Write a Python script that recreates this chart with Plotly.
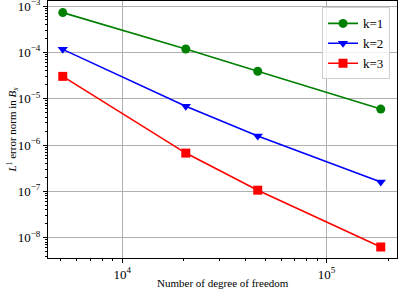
import plotly.graph_objects as go

dof = [5120, 20480, 46080, 184320]
err_k1 = [7.2e-4, 1.18e-4, 3.9e-5, 5.96e-6]
err_k2 = [1.16e-4, 6.9e-6, 1.56e-6, 1.6e-7]
err_k3 = [3.03e-5, 6.7e-7, 1.06e-7, 6.3e-9]

series = [
    ("k=1", err_k1, "#008000", "circle"),
    ("k=2", err_k2, "#0000ff", "triangle-down"),
    ("k=3", err_k3, "#ff0000", "square"),
]

yticks = [1e-8, 1e-7, 1e-6, 1e-5, 1e-4, 1e-3]
yticktext = ["10<sup>\u22128</sup>", "10<sup>\u22127</sup>", "10<sup>\u22126</sup>",
             "10<sup>\u22125</sup>", "10<sup>\u22124</sup>", "10<sup>\u22123</sup>"]
xticks = [1e4, 1e5]
xticktext = ["10<sup>4</sup>", "10<sup>5</sup>"]

font = "Liberation Serif"

fig = go.Figure()
for name, ys, col, sym in series:
    fig.add_trace(go.Scatter(
        x=dof, y=ys, name=name, mode="lines+markers",
        line=dict(color=col, width=1.6),
        marker=dict(symbol=sym, size=9, color=col),
    ))

xminor = [v * m for v in [1e3, 1e4, 1e5] for m in range(2, 10)]
yminor = [v * m for v in [1e-9, 1e-8, 1e-7, 1e-6, 1e-5, 1e-4, 1e-3] for m in range(2, 10)]

fig.update_layout(
    width=399, height=291,
    margin=dict(l=48, r=2, t=1, b=33, autoexpand=False),
    paper_bgcolor="white", plot_bgcolor="white",
    font=dict(family=font, size=13, color="black"),
    showlegend=True,
    legend=dict(x=0.98, y=0.975, xanchor="right", yanchor="top",
                bgcolor="rgba(255,255,255,0.8)", bordercolor="#d0d0d0", borderwidth=1,
                font=dict(size=13), itemwidth=30, tracegroupgap=0),
    xaxis=dict(
        type="log", range=[3.637, 5.345], automargin=False,
        tickvals=xticks, ticktext=xticktext, ticklabeloverflow="allow",
        ticks="outside", ticklen=4, tickcolor="black",
        showgrid=True, gridcolor="#b0b0b0", gridwidth=1,
        showline=True, linecolor="black", linewidth=1, mirror=True,
        zeroline=False,
        minor=dict(tickvals=xminor, ticks="outside", ticklen=2, tickcolor="black", showgrid=False),
    ),
    yaxis=dict(
        type="log", range=[-8.438, -2.892], automargin=False,
        tickvals=yticks, ticktext=yticktext, ticklabeloverflow="allow",
        ticks="outside", ticklen=4, tickcolor="black",
        showgrid=True, gridcolor="#b0b0b0", gridwidth=1,
        showline=True, linecolor="black", linewidth=1, mirror=True,
        zeroline=False,
        minor=dict(tickvals=yminor, ticks="outside", ticklen=2, tickcolor="black", showgrid=False),
    ),
    annotations=[
        dict(text="Number of degree of freedom", xref="paper", yref="paper",
             x=0.5, y=0, yshift=-25, xanchor="center", yanchor="middle",
             showarrow=False, font=dict(size=11)),
        dict(text="<i>L</i><sup>1</sup> error norm in <i>B<sub>x</sub></i>", xref="paper", yref="paper",
             x=0, y=0.5, xshift=-36, xanchor="center", yanchor="middle", textangle=-90,
             showarrow=False, font=dict(size=11)),
    ],
)

fig.write_html("out.html", config={"displayModeBar": False},
               post_script="document.body.style.margin='0';")
